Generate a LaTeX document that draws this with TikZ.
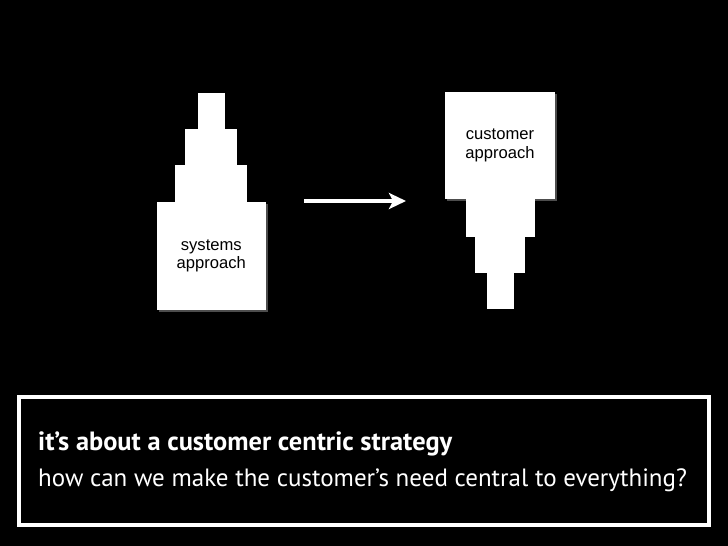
\documentclass[tikz,border=0pt]{standalone}
\usepackage{fontspec}
\setmainfont{PT Sans}
\newfontfamily\labelfont{Liberation Sans}
\usetikzlibrary{positioning, arrows.meta, shadows}

\begin{document}
\begin{tikzpicture}[x=1pt, y=-1pt,
    block/.style={rectangle, fill=white, inner sep=0pt, outer sep=0pt},
    glow/.style={drop shadow={fill=white, opacity=0.3, shadow xshift=2pt, shadow yshift=-2pt}},
    blocktext/.style={font=\labelfont\fontsize{16.6}{18.7}\selectfont, text=black, align=center},
    caption/.style={font=\fontsize{25}{29}\selectfont, text=white, anchor=base west, inner sep=0pt}]
        % Background
        \fill[black] (0,0) rectangle (728,546);
        \useasboundingbox (0,0) rectangle (728,546);

        % Draw systems approach
        \node[block, glow, blocktext, minimum width=109pt, minimum height=108pt] (sys4) at (211.3,256) {systems\\approach};
        \node[block, minimum width=72pt, minimum height=37pt, above=0pt of sys4] (sys3) {};
        \node[block, minimum width=52pt, minimum height=36pt, above=0pt of sys3] (sys2) {};
        \node[block, minimum width=27pt, minimum height=36pt, above=0pt of sys2] (sys1) {};

        % Draw customer approach
        \node[block, glow, blocktext, minimum width=110pt, minimum height=107pt] (cust1) at (500,145.5) {customer\\approach};
        \node[block, minimum width=69pt, minimum height=37.5pt, below=0pt of cust1] (cust2) {};
        \node[block, minimum width=50pt, minimum height=36pt, below=0pt of cust2] (cust3) {};
        \node[block, minimum width=27pt, minimum height=36pt, below=0pt of cust3] (cust4) {};

        % Draw arrow
        \coordinate (shiftfrom) at (304,201);
        \coordinate (shiftto) at (406,201);
        \draw[white, line width=4.5pt, -{Stealth[length=17pt, width=16pt, inset=4pt]}] (shiftfrom) -- (shiftto);

        % Draw caption box
        \node[draw=white, line width=4pt, minimum width=690pt, minimum height=128pt, inner sep=0pt] (frame) at (363.6,461) {};
        \node[caption, font=\bfseries\fontsize{26.4}{30}\selectfont] (strategy) at (38,450) {it’s about a customer centric strategy};
        \node[caption] (question) at (38,486) {how can we make the customer’s need central to everything?};
    \end{tikzpicture}
\end{document}
